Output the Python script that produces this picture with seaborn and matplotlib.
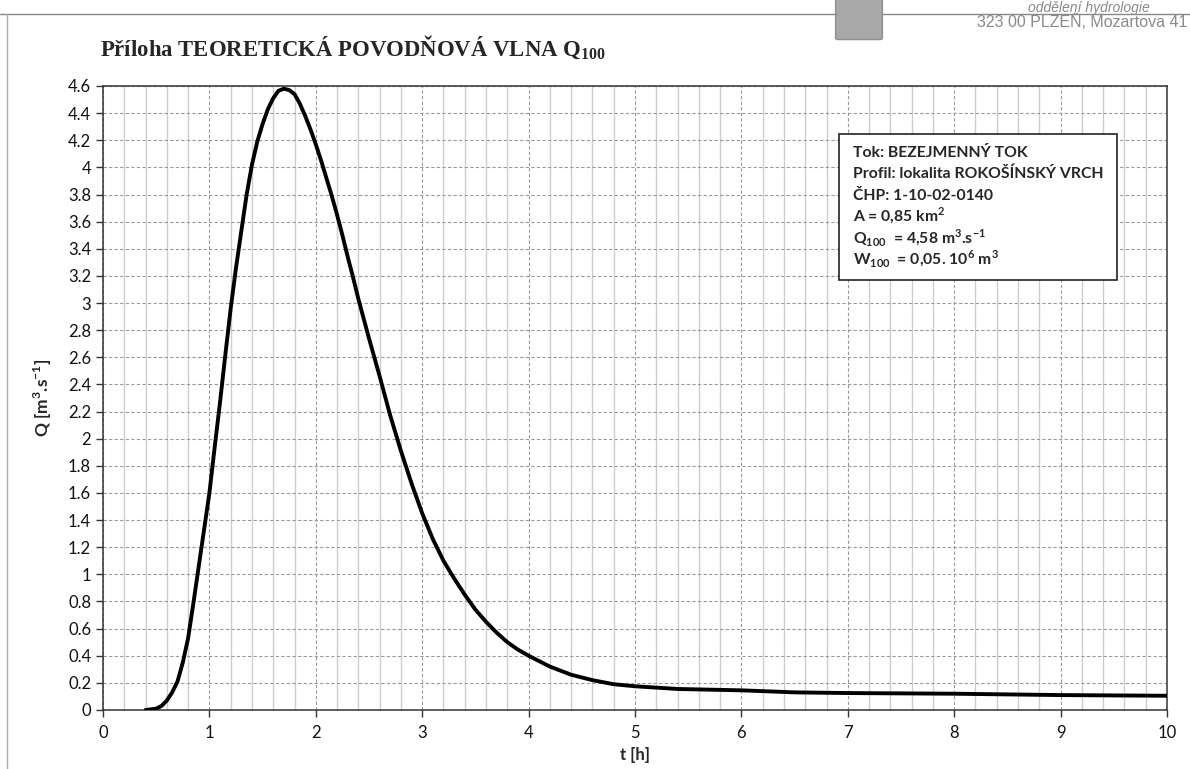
import matplotlib
matplotlib.use("Agg")
import matplotlib.pyplot as plt
from matplotlib.ticker import MultipleLocator, FixedLocator, FuncFormatter
from matplotlib.patches import Rectangle, FancyBboxPatch
import seaborn as sns
import pandas as pd
import numpy as np

# ---- data ----
t_hours = [0.4, 0.5, 0.55, 0.6, 0.65, 0.7, 0.75, 0.8, 0.85, 0.9, 0.95, 1.0,
           1.05, 1.1, 1.15, 1.2, 1.25, 1.3, 1.35, 1.4, 1.45, 1.5, 1.55, 1.6,
           1.65, 1.7, 1.75, 1.8, 1.85, 1.9, 1.95, 2.0, 2.05, 2.1, 2.15, 2.2,
           2.25, 2.3, 2.35, 2.4, 2.5, 2.6, 2.7, 2.8, 2.9, 3.0, 3.1, 3.2, 3.3,
           3.4, 3.5, 3.6, 3.7, 3.8, 3.9, 4.0, 4.2, 4.4, 4.6, 4.8, 5.0, 5.4,
           6.0, 6.5, 7.0, 8.0, 9.0, 10.0]
q_values = [0.0, 0.01, 0.03, 0.07, 0.13, 0.21, 0.35, 0.53, 0.79, 1.06, 1.33,
            1.6, 1.94, 2.27, 2.62, 2.96, 3.26, 3.53, 3.80, 4.02, 4.19, 4.32,
            4.43, 4.51, 4.565, 4.58, 4.57, 4.54, 4.47, 4.38, 4.28, 4.17, 4.05,
            3.92, 3.79, 3.65, 3.50, 3.34, 3.19, 3.03, 2.74, 2.46, 2.17, 1.91,
            1.67, 1.45, 1.26, 1.10, 0.97, 0.85, 0.74, 0.65, 0.57, 0.50, 0.445,
            0.40, 0.32, 0.26, 0.22, 0.19, 0.175, 0.155, 0.145, 0.13, 0.125,
            0.12, 0.11, 0.105]

title_text = "Příloha TEORETICKÁ POVODŇOVÁ VLNA Q$_\\mathbf{100}$"
info_lines = [
    "Tok: BEZEJMENNÝ TOK",
    "Profil: lokalita ROKOŠÍNSKÝ VRCH",
    "ČHP: 1-10-02-0140",
    "A = 0,85 km$^\\mathsf{2}$",
    "Q$_\\mathsf{100}$  = 4,58 m$^\\mathsf{3}$.s$^\\mathsf{-1}$",
    "W$_\\mathsf{100}$  = 0,05. 10$^\\mathsf{6}$ m$^\\mathsf{3}$",
]
x_label = "t [h]"
y_label = "Q [m$^\\mathsf{3}$.s$^\\mathsf{-1}$]"
header_addr = "323 00 PLZEŇ, Mozartova 41"
header_dept = "oddělení hydrologie"

df = pd.DataFrame({"t": t_hours, "Q": q_values})

sns.set_style("white")
plt.rcParams["font.family"] = ["Lato", "DejaVu Sans"]
plt.rcParams["mathtext.fontset"] = "custom"
plt.rcParams["mathtext.bf"] = "Liberation Serif:bold"
plt.rcParams["mathtext.sf"] = "Lato:bold"
plt.rcParams["mathtext.rm"] = "Lato"

W, H = 1190, 769
fig = plt.figure(figsize=(W / 100, H / 100), dpi=100)
ax = fig.add_axes([103 / W, 1 - 710 / H, (1167 - 103) / W, (710 - 86) / H])

sns.lineplot(data=df, x="t", y="Q", ax=ax, color="black", linewidth=2.8, zorder=5)

ax.set_xlim(0, 10)
ax.set_ylim(0, 4.6)
ax.xaxis.set_major_locator(MultipleLocator(1))
minor_x = [round(v, 1) for v in np.arange(0.2, 10.0, 0.2) if abs(v - round(v)) > 1e-6]
ax.xaxis.set_minor_locator(FixedLocator(minor_x))
ax.yaxis.set_major_locator(MultipleLocator(0.2))
ax.yaxis.set_major_formatter(FuncFormatter(lambda v, p: f"{round(v, 1):g}"))
ax.xaxis.set_major_formatter(FuncFormatter(lambda v, p: f"{round(v):g}"))

ax.grid(which="minor", axis="x", linestyle="-", color="#cdcdcd", linewidth=1.0)
ax.grid(which="major", axis="x", linestyle=(0, (3, 2)), color="#9a9a9a", linewidth=0.8)
ax.grid(which="major", axis="y", linestyle=(0, (3, 2)), color="#9a9a9a", linewidth=0.8)
ax.set_axisbelow(True)

for s in ax.spines.values():
    s.set_visible(True)
    s.set_color("#333333")
    s.set_linewidth(1.1)

ax.tick_params(which="major", direction="out", length=5, width=1.0, color="#333333",
               labelsize=12, labelcolor="#111111", bottom=True, left=True)
ax.tick_params(which="minor", length=0)
ax.tick_params(axis="x", pad=6)

ax.set_xlabel(x_label, fontsize=12, fontweight="bold", labelpad=4)
ax.set_ylabel(y_label, fontsize=12.5, fontweight="bold", labelpad=10)

# info box
ax.add_patch(Rectangle((0.6917, 0.689), 0.2613, 0.234, transform=ax.transAxes,
                       facecolor="white", edgecolor="#222222", linewidth=1.2,
                       zorder=6))
for i, line in enumerate(info_lines):
    fig.text(853 / W, 1 - (157 + 21.4 * i) / H, line, fontsize=11.3,
             fontweight="bold", va="baseline", ha="left", zorder=7)

# title
fig.text(100 / W, 1 - 48 / H, title_text, fontsize=16.4, fontweight="bold",
         family="Liberation Serif", va="center", ha="left")

# page header decorations
fig.add_artist(plt.Line2D([0, 836 / W], [1 - 14 / H] * 2, color="#888888", lw=1.0))
fig.add_artist(plt.Line2D([882 / W, 1], [1 - 14 / H] * 2, color="#888888", lw=1.0))
fig.add_artist(plt.Line2D([7 / W] * 2, [0, 1 - 14 / H], color="#aaaaaa", lw=1.0))
fig.add_artist(FancyBboxPatch((838 / W, 1 - 38 / H), 42 / W, 38 / H,
                              boxstyle="round,pad=0.002", facecolor="#a8a8a8",
                              edgecolor="#909090", transform=fig.transFigure))
fig.text(1187 / W, 1 - 22 / H, header_addr, fontsize=11.5, color="#8a8a8a",
         family="Liberation Sans", ha="right", va="center")
fig.text(1150 / W, 1 - 1 / H, header_dept, fontsize=10, color="#8a8a8a",
         family="Liberation Sans", style="italic", ha="right", va="top")

fig.savefig("out.png", dpi=100, facecolor="white")
